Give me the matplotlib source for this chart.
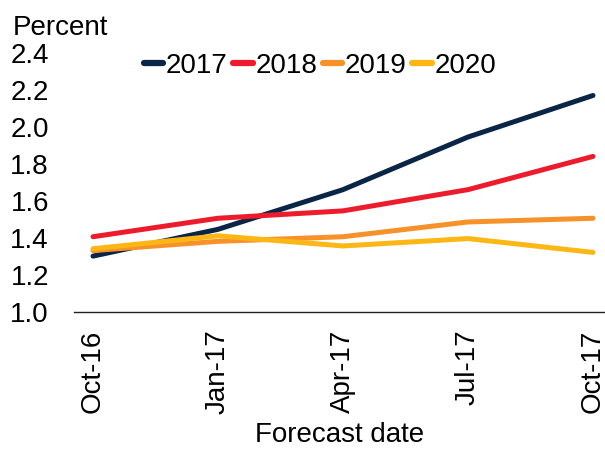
import matplotlib
matplotlib.use("Agg")
import matplotlib.pyplot as plt

plt.rcParams['font.family'] = ['Liberation Sans', 'DejaVu Sans']

dates = ["Oct-16", "Jan-17", "Apr-17", "Jul-17", "Oct-17"]
series_names = ["2017", "2018", "2019", "2020"]
v2017 = [1.30, 1.445, 1.66, 1.945, 2.17]
v2018 = [1.405, 1.505, 1.545, 1.66, 1.84]
v2019 = [1.33, 1.38, 1.405, 1.485, 1.505]
v2020 = [1.34, 1.41, 1.355, 1.395, 1.32]
colors = ["#0B2546", "#EC1C2D", "#F7922A", "#FDB714"]
yticks = [1.0, 1.2, 1.4, 1.6, 1.8, 2.0, 2.2, 2.4]

fig = plt.figure(figsize=(6.05, 4.49), dpi=100)
ax = fig.add_axes([74/605, 1 - 311.5/449, 1 - 74/605, (311.5 - 53)/449])

x = list(range(len(dates)))
for name, vals, c in zip(series_names, [v2017, v2018, v2019, v2020], colors):
    ax.plot(x, vals, color=c, lw=3.6, label=name, solid_capstyle='round')

ax.set_xlim(-0.152, 4.096)
ax.set_ylim(1.0, 2.4)
ax.set_yticks(yticks)
ax.set_yticklabels([f"{t:.1f}" for t in yticks])
ax.set_xticks(x)
ax.set_xticklabels(dates, rotation=90)
ax.tick_params(axis='both', length=0, labelsize=20)
ax.tick_params(axis='y', pad=18)
ax.tick_params(axis='x', pad=13)
for s in ['top', 'right', 'left']:
    ax.spines[s].set_visible(False)
ax.spines['bottom'].set_linewidth(1.0)
ax.spines['bottom'].set_color('#222222')
ax.patch.set_alpha(0)

ax.set_xlabel("Forecast date", fontsize=20, labelpad=5.5)
fig.text(13/605, 1 - 35/449, "Percent", fontsize=20, ha='left', va='baseline')

leg = ax.legend(ncol=4, loc='center', bbox_to_anchor=(320/605, 1 - 66/449),
                bbox_transform=fig.transFigure, frameon=False, fontsize=20,
                handlelength=0.7, handletextpad=0.1, columnspacing=0.2,
                borderpad=0, borderaxespad=0)
for h in leg.get_lines():
    h.set_linewidth(4.5)

fig.savefig("out.png", dpi=100)
